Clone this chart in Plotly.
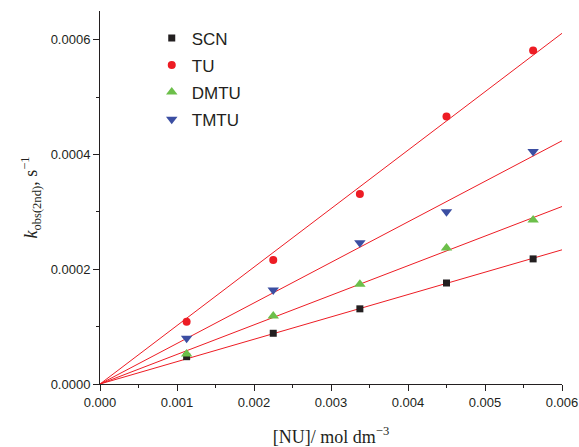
import plotly.graph_objects as go

nu_conc = [0.001125, 0.00225, 0.003375, 0.0045, 0.005625]
series_names = ["SCN", "TU", "DMTU", "TMTU"]
scn = [0.0000476, 0.0000884, 0.000131, 0.000176, 0.000218]
tu = [0.0001086, 0.000216, 0.000331, 0.000466, 0.000581]
dmtu = [0.0000523, 0.0001186, 0.000174, 0.000237, 0.000286]
tmtu = [0.0000797, 0.000164, 0.000246, 0.000300, 0.000405]
x_fit_range = [0.0, 0.006]

values = {"SCN": scn, "TU": tu, "DMTU": dmtu, "TMTU": tmtu}
colors = {"SCN": "#231f20", "TU": "#ed1c24", "DMTU": "#6cbf4a", "TMTU": "#3b4ea2"}
symbols = {"SCN": "square", "TU": "circle", "DMTU": "triangle-up", "TMTU": "triangle-down"}
sizes = {"SCN": 7, "TU": 8, "DMTU": 10, "TMTU": 10}

fig = go.Figure()

# fitted lines through origin (least squares)
for name in series_names:
    ys = values[name]
    slope = sum(x * y for x, y in zip(nu_conc, ys)) / sum(x * x for x in nu_conc)
    fig.add_trace(go.Scatter(
        x=x_fit_range, y=[slope * x for x in x_fit_range], mode="lines",
        line=dict(color="#ed1c24", width=1), showlegend=False, hoverinfo="skip"))

for name in series_names:
    fig.add_trace(go.Scatter(
        x=nu_conc, y=values[name], mode="markers", name=name, legendgroup=name,
        marker=dict(symbol=symbols[name], color=colors[name], size=sizes[name],
                    line=dict(width=0))))

fig.update_layout(
    width=579, height=447,
    margin=dict(l=100, r=17, t=11, b=63),
    plot_bgcolor="white", paper_bgcolor="white",
    font=dict(family="Liberation Sans, Arial", size=13, color="#231f20"),
    legend=dict(x=0.112, y=0.975, xanchor="left", yanchor="top",
                bgcolor="rgba(0,0,0,0)", font=dict(size=17),
                itemwidth=30, tracegroupgap=2),
    showlegend=True,
)

fig.update_xaxes(
    range=[0, 0.006], dtick=0.001, tick0=0, tickformat=".3f", automargin=False,
    showgrid=False, zeroline=False, showline=True, linecolor="#231f20", linewidth=1,
    ticks="outside", ticklen=6, tickcolor="#231f20",
    minor=dict(ticks="outside", ticklen=3, dtick=0.0005, tickcolor="#231f20", showgrid=False),
    title=dict(text="[NU]/ mol dm<sup>\u22123</sup>",
               font=dict(family="Liberation Serif, Times New Roman", size=18), standoff=22),
)
fig.update_yaxes(
    range=[0, 0.00065], dtick=0.0002, tick0=0, tickformat=".4f",
    showgrid=False, zeroline=False, showline=True, linecolor="#231f20", linewidth=1,
    ticks="outside", ticklen=6, tickcolor="#231f20",
    minor=dict(ticks="outside", ticklen=3, dtick=0.0001, tickcolor="#231f20", showgrid=False),
    title=dict(text="<i>k</i><sub>obs(2nd)</sub>, s<sup>\u22121</sup>",
               font=dict(family="Liberation Serif, Times New Roman", size=18), standoff=8),
)

fig.write_html("out.html")
